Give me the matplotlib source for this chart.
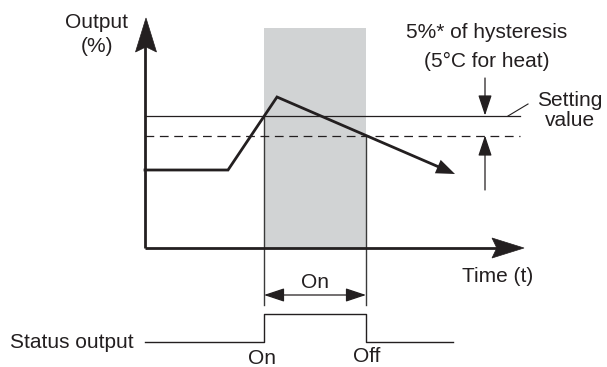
import matplotlib

matplotlib.use("Agg")
import matplotlib.pyplot as plt
from matplotlib.patches import Polygon, Rectangle, FancyArrowPatch

plt.rcParams["font.family"] = ["Liberation Sans", "DejaVu Sans"]

# diagram values, in pixel units of the 607x367 canvas (y grows downward)
curve_x = [145, 228, 277, 455]
curve_y = [170, 170, 97, 174]
setting_y = 115.5
lower_y = 135.5
on_t = 264
off_t = 366
status_t = [145, 264, 264, 366, 366, 453]
status_y = [342, 342, 314, 314, 342, 342]

INK = "#231f20"
GRAY = "#d1d3d4"

fig = plt.figure(figsize=(6.07, 3.67), dpi=100)
ax = fig.add_axes([0, 0, 1, 1])
ax.set_xlim(0, 607)
ax.set_ylim(367, 0)
ax.axis("off")


def head(tip, direction, length, half):
    # stealth-like filled arrow head
    tx, ty = tip
    dx, dy = direction
    px, py = -dy, dx
    bx, by = tx - dx * length, ty - dy * length
    nx, ny = tx - dx * length * 0.85, ty - dy * length * 0.85
    pts = [(tx, ty), (bx + px * half, by + py * half), (nx, ny), (bx - px * half, by - py * half)]
    ax.add_patch(Polygon(pts, closed=True, facecolor=INK, edgecolor=INK, lw=0.5, zorder=6))


def arrow(p1, p2, style="-|>", lw=1.0):
    ax.add_patch(FancyArrowPatch(p1, p2, arrowstyle=style + ",head_length=0.9,head_width=0.3",
                                 mutation_scale=14, lw=lw, color=INK,
                                 shrinkA=0, shrinkB=0, zorder=5))


# shaded on-period
ax.add_patch(Rectangle((on_t, 28), off_t - on_t, 248 - 28, facecolor=GRAY, edgecolor="none", zorder=0))

# axes
ax.plot([145, 145], [248, 40], color=INK, lw=2.0, solid_capstyle="butt", zorder=4)
head((146, 18), (0, -1), 34, 10.5)
ax.plot([145, 500], [248, 248], color=INK, lw=2.0, solid_capstyle="butt", zorder=4)
head((524, 248), (1, 0), 32, 10)

# setting value and hysteresis lines
ax.plot([145, 520], [setting_y, setting_y], color=INK, lw=0.9, zorder=3)
ax.plot([145, 520], [lower_y, lower_y], color=INK, lw=0.9, dashes=(7, 4.5), zorder=3)
ax.plot([508, 528], [116, 104], color=INK, lw=0.8)

# on / off guide lines
ax.plot([on_t, on_t], [setting_y, 305], color="#3a3a3a", lw=1.0, zorder=2)
ax.plot([off_t, off_t], [lower_y, 305], color="#3a3a3a", lw=1.0, zorder=2)

# output curve
ax.plot(curve_x[:-1] + [curve_x[-1] - 8], curve_y[:-1] + [curve_y[-1] - 3.5], color=INK, lw=2.0,
        solid_joinstyle="miter", zorder=5)
ax.add_patch(FancyArrowPatch((curve_x[-2], curve_y[-2]), (curve_x[-1], curve_y[-1]),
                             arrowstyle="-|>,head_length=0.9,head_width=0.35", mutation_scale=15,
                             lw=0, color=INK, shrinkA=0, shrinkB=0, zorder=5))

# hysteresis arrows
arrow((485, 78), (485, setting_y), lw=0.9)
arrow((485, 190), (485, lower_y), lw=0.9)

# on-duration arrow
arrow((on_t, 295), (off_t, 295), style="<|-|>", lw=0.9)

# status output
ax.plot(status_t, status_y, color=INK, lw=1.0)

fs = 15
ax.text(97, 22, "Output", ha="center", va="center", fontsize=fs, color=INK)
ax.text(97, 47, "(%)", ha="center", va="center", fontsize=fs, color=INK)
ax.text(487, 33, "5%* of hysteresis", ha="center", va="center", fontsize=fs, color=INK)
ax.text(487, 61, "(5\u00b0C for heat)", ha="center", va="center", fontsize=fs, color=INK)
ax.text(570, 100, "Setting", ha="center", va="center", fontsize=fs, color=INK)
ax.text(570, 120, "value", ha="center", va="center", fontsize=fs, color=INK)
ax.text(498, 277, "Time (t)", ha="center", va="center", fontsize=fs, color=INK)
ax.text(315, 282, "On", ha="center", va="center", fontsize=fs, color=INK)
ax.text(134, 342, "Status output", ha="right", va="center", fontsize=fs, color=INK)
ax.text(262, 358, "On", ha="center", va="center", fontsize=fs, color=INK)
ax.text(367, 357, "Off", ha="center", va="center", fontsize=fs, color=INK)

fig.savefig("out.png", dpi=100, facecolor="white")
